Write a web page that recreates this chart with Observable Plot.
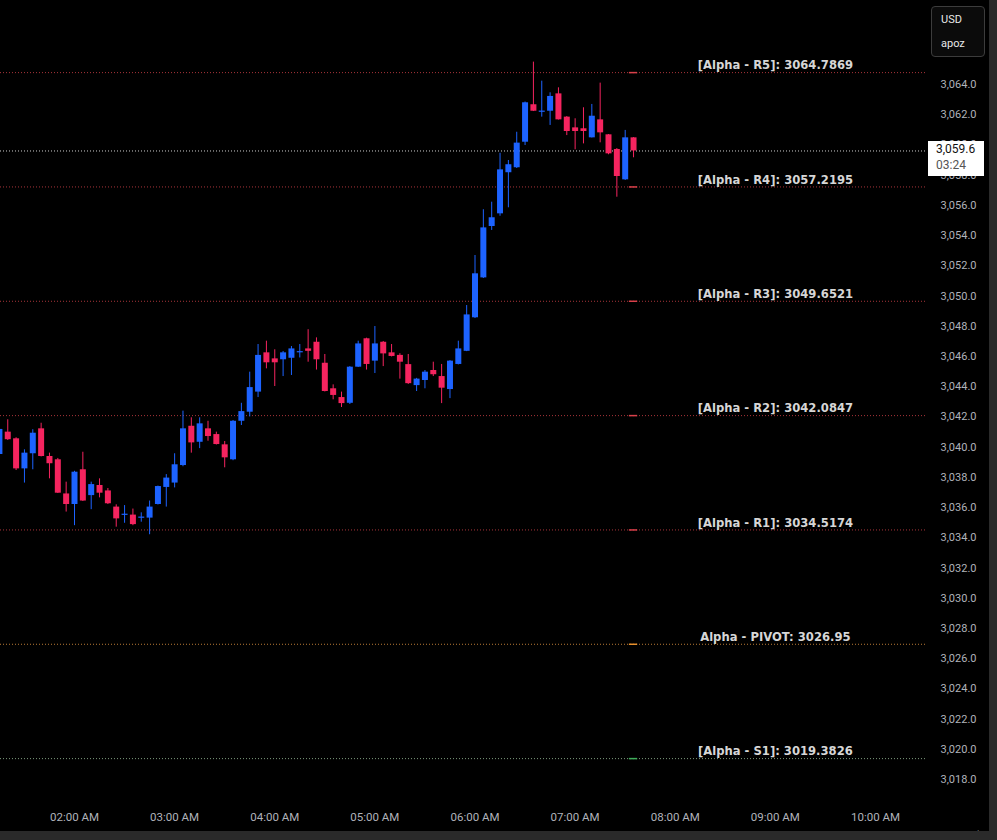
<!DOCTYPE html>
<html>
<head>
<meta charset="utf-8">
<script src="https://cdn.jsdelivr.net/npm/d3@7"></script>
<script src="https://cdn.jsdelivr.net/npm/@observablehq/plot@0.6"></script>
<style>
  html, body { margin: 0; padding: 0; background: #000; }
  #wrap { position: relative; width: 997px; height: 840px; background: #000; overflow: hidden; font-family: Roboto, "Noto Sans", sans-serif; }
  #wrap svg { position: absolute; left: 0; top: 0; }
  .band { position: absolute; background: #2a2a2a; }
  #unit { position: absolute; left: 931px; top: 6px; width: 52px; height: 49px; border: 1px solid #3c3c3c; border-radius: 4px; background: #0b0b0b; color: #e8e8e8; font-size: 11px; }
  #unit div { position: absolute; left: 9px; }
  #pricebox { position: absolute; left: 928px; width: 56px; height: 35px; background: #fff; font-size: 12px; }
  #pricebox div { position: absolute; left: 8px; }
</style>
</head>
<body>
<div id="wrap"></div>
<script>
// ---- data ----
const times = ["01:15","01:20","01:25","01:30","01:35","01:40","01:45","01:50","01:55",
  "02:00","02:05","02:10","02:15","02:20","02:25","02:30","02:35","02:40","02:45","02:50","02:55",
  "03:00","03:05","03:10","03:15","03:20","03:25","03:30","03:35","03:40","03:45","03:50","03:55",
  "04:00","04:05","04:10","04:15","04:20","04:25","04:30","04:35","04:40","04:45","04:50","04:55",
  "05:00","05:05","05:10","05:15","05:20","05:25","05:30","05:35","05:40","05:45","05:50","05:55",
  "06:00","06:05","06:10","06:15","06:20","06:25","06:30","06:35","06:40","06:45","06:50","06:55",
  "07:00","07:05","07:10","07:15","07:20","07:25","07:30","07:35"];
const open = [3039.51,3040.99,3040.55,3038.56,3039.56,3041.21,3039.38,3039.16,3036.90,
  3036.20,3038.50,3036.79,3037.46,3037.10,3036.03,3035.48,3035.50,3035.29,3035.30,3036.20,3037.33,
  3037.62,3038.78,3041.38,3040.32,3041.21,3040.83,3040.15,3039.16,3041.71,3042.31,3043.64,3046.24,
  3045.84,3045.78,3045.88,3046.24,3046.50,3046.94,3045.55,3043.86,3043.28,3042.90,3045.29,3047.17,
  3045.69,3046.94,3046.24,3046.07,3045.46,3044.07,3044.41,3045.07,3044.67,3043.81,3045.47,3046.34,
  3048.56,3051.20,3054.60,3055.44,3058.16,3058.49,3060.18,3062.66,3062.16,3062.23,3063.38,3061.84,
  3061.13,3061.07,3060.47,3061.66,3060.67,3059.70,3057.69,3060.47];
const high = [3041.30,3041.81,3040.62,3039.82,3041.15,3041.58,3039.60,3039.25,3037.68,
  3038.40,3039.66,3037.68,3037.90,3037.26,3036.18,3036.13,3035.90,3035.65,3036.43,3037.42,3038.18,
  3039.56,3042.38,3041.94,3041.94,3041.71,3040.99,3040.37,3041.76,3042.90,3044.96,3046.79,3047.01,
  3046.44,3046.33,3046.66,3046.79,3047.77,3047.23,3046.13,3044.12,3043.64,3045.33,3047.01,3047.21,
  3047.98,3046.99,3046.79,3046.18,3046.13,3044.55,3045.07,3045.62,3045.47,3045.73,3047.01,3049.37,
  3052.68,3055.71,3056.21,3059.45,3058.97,3060.84,3062.84,3065.48,3064.22,3063.45,3063.78,3061.88,
  3061.73,3062.46,3062.68,3064.09,3060.69,3059.76,3060.96,3060.49];
const low = [3039.40,3040.44,3038.45,3037.62,3038.50,3039.35,3037.90,3036.93,3035.70,
  3034.80,3036.40,3035.86,3036.64,3036.20,3034.70,3034.96,3034.80,3035.03,3034.20,3036.17,3036.03,
  3037.30,3038.70,3039.60,3039.90,3040.39,3040.14,3038.63,3039.10,3041.43,3042.00,3043.28,3045.18,
  3044.01,3044.67,3044.74,3045.90,3045.62,3045.10,3043.65,3043.13,3042.62,3042.82,3045.27,3045.10,
  3044.87,3045.33,3045.97,3044.50,3044.15,3043.68,3043.86,3044.67,3042.88,3043.21,3045.44,3046.32,
  3048.51,3051.16,3054.34,3055.28,3055.84,3058.44,3059.96,3062.21,3061.84,3061.29,3061.65,3060.62,
  3059.68,3060.07,3060.46,3060.14,3059.35,3056.54,3057.65,3059.15];
const close = [3041.17,3040.49,3038.56,3039.60,3040.92,3039.38,3038.90,3036.95,3036.20,
  3038.34,3036.43,3037.52,3036.95,3036.25,3035.25,3035.56,3034.87,3035.37,3036.03,3037.39,3037.95,
  3038.83,3041.21,3040.28,3041.54,3040.70,3040.17,3039.29,3041.71,3042.35,3043.94,3046.07,3045.58,
  3045.58,3046.24,3046.50,3046.32,3046.34,3045.78,3043.68,3043.42,3042.88,3045.29,3046.83,3045.47,
  3046.83,3046.17,3046.00,3045.62,3044.20,3044.50,3044.96,3044.79,3043.90,3045.69,3046.50,3048.75,
  3051.47,3054.51,3055.18,3058.35,3058.69,3060.12,3062.79,3062.23,3062.24,3063.21,3061.66,3060.89,
  3060.89,3060.89,3061.90,3060.80,3059.41,3057.91,3060.47,3059.60];

const levelNames  = ["[Alpha - R5]","[Alpha - R4]","[Alpha - R3]","[Alpha - R2]","[Alpha - R1]","Alpha - PIVOT","[Alpha - S1]"];
const levelValues = [3064.7869, 3057.2195, 3049.6521, 3042.0847, 3034.5174, 3026.95, 3019.3826];
const levelKinds  = ["R","R","R","R","R","P","S"];

const yTicks = [3018,3020,3022,3024,3026,3028,3030,3032,3034,3036,3038,3040,3042,3044,3046,3048,3050,3052,3054,3056,3058,3060,3062,3064];
const xTickLabels = ["02:00","03:00","04:00","05:00","06:00","07:00","08:00","09:00","10:00"];
const lastPrice = 3059.6;
const countdown = "03:24";
const currency = "USD";
const unitLabel = "apoz";

// ---- build ----
const day = "2025-03-28";
const toDate = s => new Date(`${day}T${s}:00Z`);
const UP = "#1d63ff", DOWN = "#f5245f";
const lineColor = {R: "#a8343a", P: "#b87a34", S: "#7d9a7d"};
const markColor = {R: "#d9404a", P: "#e8902c", S: "#3fae5a"};

const candles = times.map((t, i) => ({t: toDate(t), o: open[i], h: high[i], l: low[i], c: close[i]}));
const levels = levelNames.map((n, i) => ({name: n, value: levelValues[i], kind: levelKinds[i], label: `${n}: ${levelValues[i]}`}));
const xTicks = xTickLabels.map(toDate);
const lastT = candles[candles.length - 1].t;
const markA = new Date(+lastT - 2.5 * 60000), markB = new Date(+lastT + 2.5 * 60000);
const labelT = toDate("09:00");
const col = d => d.c >= d.o ? UP : DOWN;

const plot = Plot.plot({
  width: 997, height: 840,
  marginLeft: 0, marginRight: 71, marginTop: 0, marginBottom: 40,
  style: {background: "#000", color: "#b2b5be", fontFamily: "Roboto, sans-serif", fontSize: "11px", overflow: "hidden"},
  x: {type: "utc", domain: [toDate("02:00"), toDate("10:00")], range: [74, 875]},
  y: {domain: [3018, 3064], range: [779, 84]},
  color: {type: "identity"},
  marks: [
    Plot.ruleY(levels, {y: "value", stroke: d => lineColor[d.kind], strokeDasharray: "1,2", strokeWidth: 1}),
    Plot.ruleY([lastPrice], {y: d => d, stroke: "#cfcfcf", strokeDasharray: "1,2", strokeWidth: 1}),
    Plot.ruleY(levels, {y: "value", x1: () => markA, x2: () => markB, stroke: d => markColor[d.kind], strokeWidth: 1.5}),
    Plot.ruleX(candles, {x: "t", y1: "l", y2: "h", stroke: col, strokeWidth: 1}),
    Plot.ruleX(candles, {x: "t", y1: "o", y2: "c", stroke: col, strokeWidth: 6}),
    Plot.text(levels, {x: () => labelT, y: "value", text: "label", dy: -7, fill: "#d6d6d6",
      fontFamily: "DejaVu Sans", fontWeight: "bold", fontSize: 11.6, textAnchor: "middle"}),
    Plot.axisY({anchor: "right", ticks: yTicks, tickFormat: d3.format(",.1f"), tickSize: 0, tickPadding: 14,
      textAnchor: "start", fill: "#b0b3ba", fontSize: 11}),
    Plot.axisX({anchor: "bottom", ticks: xTicks, tickFormat: d3.utcFormat("%I:%M %p"), tickSize: 0, tickPadding: 12,
      fill: "#b0b3ba", fontSize: 11.5})
  ]
});

const wrap = document.getElementById("wrap");
wrap.appendChild(plot);

// frame bands
const bR = document.createElement("div"); bR.className = "band";
bR.style.cssText = "left:989px;top:0;width:8px;height:840px;";
const bB = document.createElement("div"); bB.className = "band";
bB.style.cssText = "left:0;top:831px;width:997px;height:9px;";
wrap.appendChild(bR); wrap.appendChild(bB);

// unit box
const unit = document.createElement("div"); unit.id = "unit";
unit.innerHTML = `<div style="top:6px">${currency}</div><div style="top:30px">${unitLabel}</div>`;
wrap.appendChild(unit);

// last price box, placed through the plot's y scale (it covers the nearby axis labels, as in the reference)
const py = plot.scale("y").apply(lastPrice);
const pb = document.createElement("div"); pb.id = "pricebox";
pb.style.top = (py - 9) + "px";
pb.innerHTML = `<div style="top:1px;color:#111">${d3.format(",.1f")(lastPrice)}</div><div style="top:17px;color:#555">${countdown}</div>`;
wrap.appendChild(pb);
</script>
</body>
</html>
